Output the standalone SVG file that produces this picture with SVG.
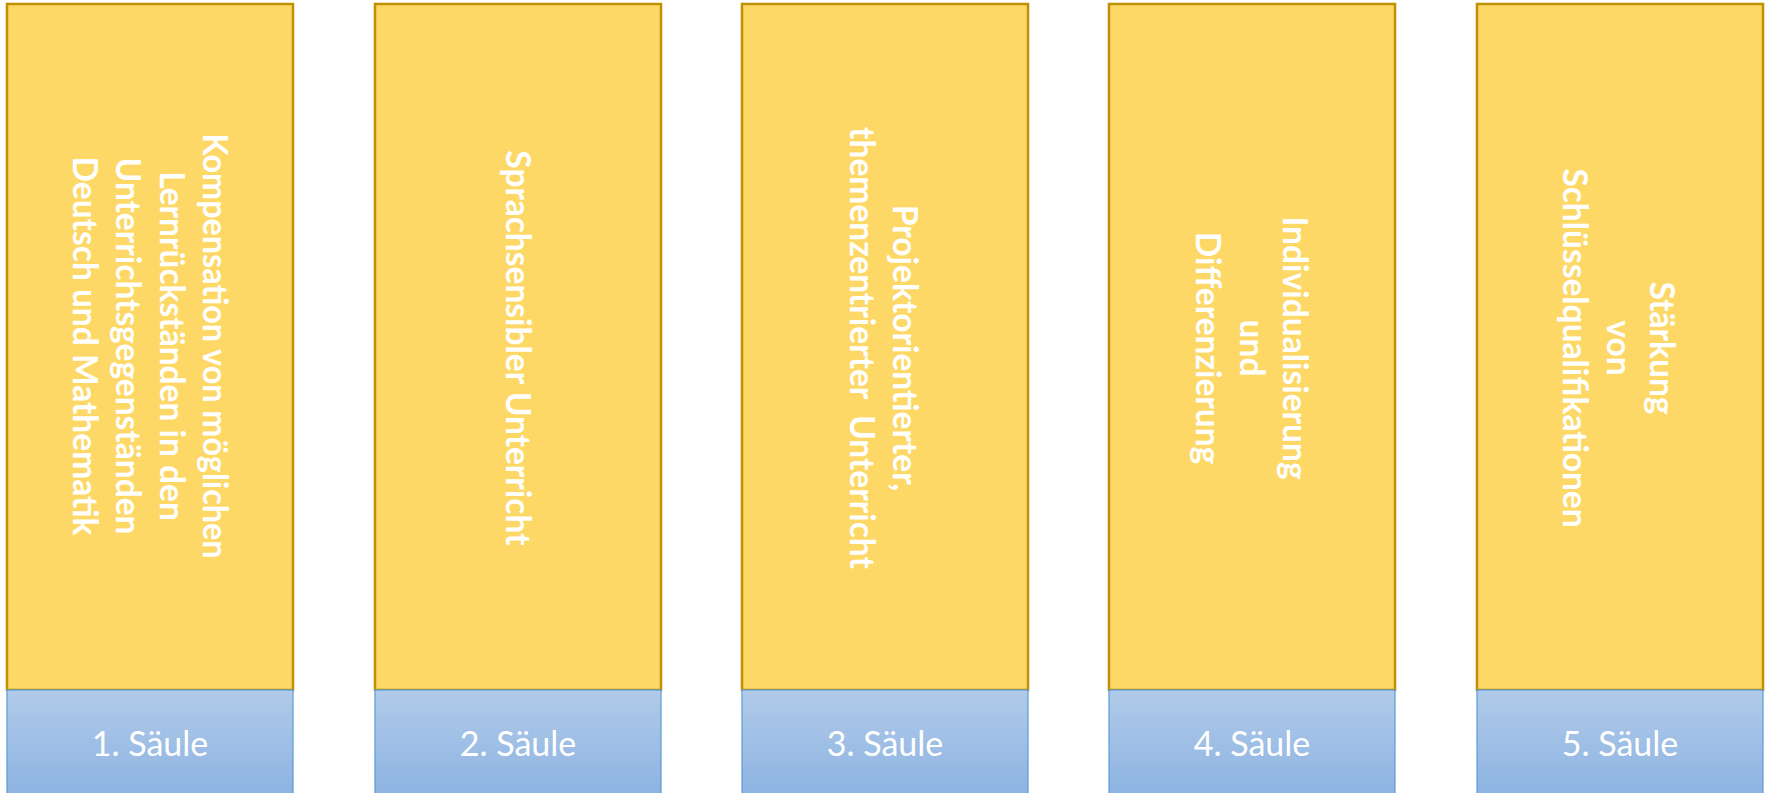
<svg xmlns="http://www.w3.org/2000/svg" width="1769" height="793" viewBox="0 0 1769 793">
<defs>
<linearGradient id="blueGrad" x1="0" y1="0" x2="0" y2="1">
<stop offset="0" stop-color="#B1CBE9"/>
<stop offset="1" stop-color="#8DB3E2"/>
</linearGradient>
<style>
.pillar{fill:#FDD866;stroke:#BF9000;stroke-width:2.5}
.base{fill:url(#blueGrad);stroke:#5B9BD5;stroke-width:1.2}
.vt{font-family:Lato,"Open Sans","Liberation Sans",sans-serif;font-weight:bold;font-size:33.5px;fill:#FFFFFF;text-anchor:middle}
.lbl{font-family:Lato,"Open Sans","Liberation Sans",sans-serif;font-size:34px;fill:#FFFFFF;text-anchor:middle}
</style>
</defs>
<rect width="1769" height="793" fill="#FFFFFF"/>
<g id="saeule1">
<rect class="pillar" x="7" y="4" width="286" height="686"/>
<g transform="translate(150,346) rotate(90)">
<text class="vt" x="0" y="-53" textLength="425" lengthAdjust="spacingAndGlyphs">Kompensation von möglichen</text>
<text class="vt" x="0" y="-10">Lernrückständen in den</text>
<text class="vt" x="0" y="34">Unterrichtsgegenständen</text>
<text class="vt" x="0" y="77">Deutsch und Mathematik</text>
</g>
<rect class="base" x="7" y="690" width="286" height="104"/>
<text class="lbl" x="150" y="756">1. Säule</text>
</g>
<g id="saeule2">
<rect class="pillar" x="375" y="4" width="286" height="686"/>
<g transform="translate(518,348) rotate(90)">
<text class="vt" x="0" y="12">Sprachsensibler Unterricht</text>
</g>
<rect class="base" x="375" y="690" width="286" height="104"/>
<text class="lbl" x="518" y="756">2. Säule</text>
</g>
<g id="saeule3">
<rect class="pillar" x="742" y="4" width="286" height="686"/>
<g transform="translate(885,348) rotate(90)">
<text class="vt" x="0" y="-8">Projektorientierter,</text>
<text class="vt" x="0" y="35" xml:space="preserve">themenzentrierter  Unterricht</text>
</g>
<rect class="base" x="742" y="690" width="286" height="104"/>
<text class="lbl" x="885" y="756">3. Säule</text>
</g>
<g id="saeule4">
<rect class="pillar" x="1109" y="4" width="286" height="686"/>
<g transform="translate(1252,348) rotate(90)">
<text class="vt" x="0" y="-31">Individualisierung</text>
<text class="vt" x="0" y="12">und</text>
<text class="vt" x="0" y="56">Differenzierung</text>
</g>
<rect class="base" x="1109" y="690" width="286" height="104"/>
<text class="lbl" x="1252" y="756">4. Säule</text>
</g>
<g id="saeule5">
<rect class="pillar" x="1477" y="4" width="286" height="686"/>
<g transform="translate(1620,348) rotate(90)">
<text class="vt" x="0" y="-30">Stärkung</text>
<text class="vt" x="0" y="13">von</text>
<text class="vt" x="0" y="57">Schlüsselqualifikationen</text>
</g>
<rect class="base" x="1477" y="690" width="286" height="104"/>
<text class="lbl" x="1620" y="756">5. Säule</text>
</g>
<g id="connectors"/>
</svg>
